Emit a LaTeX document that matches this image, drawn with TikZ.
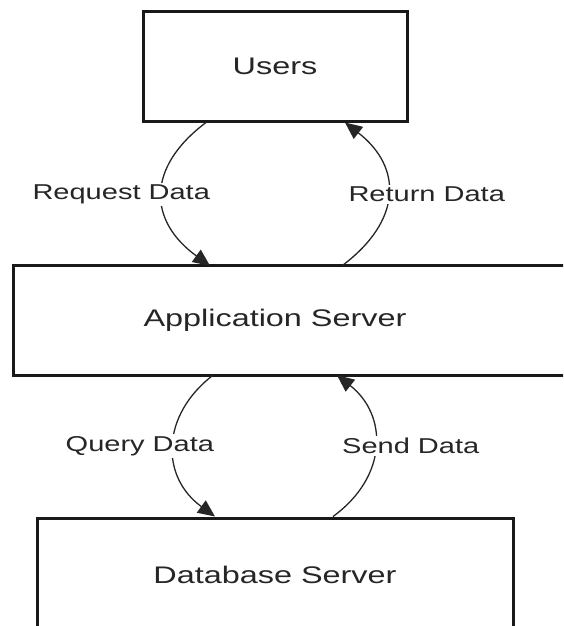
\documentclass[tikz,border=0pt]{standalone}
\usepackage{graphicx}
\usepackage{fontspec}
\setmainfont{Liberation Sans}
\usetikzlibrary{arrows.meta}
\newcommand{\wtext}[1]{\scalebox{1.35}[1]{#1}}
\begin{document}
\begin{tikzpicture}[x=1pt,y=-1pt,
  boxline/.style={draw=black!90, line width=3pt},
  boxtext/.style={font=\fontsize{24}{28}\selectfont, text=black!85},
  flow/.style={draw=black!85, line width=1.3pt, -{Triangle[length=17pt,width=15pt]}},
  lbl/.style={fill=white, inner sep=2pt, font=\fontsize{21.5}{25}\selectfont, text=black!85}]
  \useasboundingbox (0,0) rectangle (563,626);
  \clip (0,0) rectangle (563,626);
  \fill[white] (0,0) rectangle (563,626);

  % the three tiers
  \node[boxline, boxtext, minimum width=264pt, minimum height=109pt] (users) at (275,66.5) {\wtext{Users}};
  \node[boxtext, minimum width=522pt, minimum height=109pt] (app) at (275,320.5) {\wtext{Application Server}};
  \draw[boxline] (app.north west) rectangle ([xshift=60pt]app.south east);
  \node[boxline, boxtext, minimum width=476pt, minimum height=114pt] (db) at (275,575) {\wtext{Database Server}};

  % request / response between users and application
  \draw[flow] ([xshift=-69pt]users.south) .. controls +(-60,45) and +(-62,-45) .. ([xshift=-65pt]app.north)
    node[lbl, pos=0.5, xshift=-41pt] (req) {\wtext{Request Data}};
  \draw[flow] ([xshift=67pt]app.north) .. controls +(60,-45) and +(58,45) .. ([xshift=70pt]users.south)
    node[lbl, pos=0.5, xshift=39pt] (ret) {\wtext{Return Data}};

  % query / result between application and database
  \draw[flow] ([xshift=-62pt]app.south) .. controls +(-52,40) and +(-55,-40) .. ([xshift=-60pt]db.north)
    node[lbl, pos=0.5, xshift=-34pt] (qry) {\wtext{Query Data}};
  \draw[flow] ([xshift=58pt]db.north) .. controls +(55,-40) and +(51,40) .. ([xshift=62pt]app.south)
    node[lbl, pos=0.5, xshift=36pt] (snd) {\wtext{Send Data}};
\end{tikzpicture}
\end{document}
